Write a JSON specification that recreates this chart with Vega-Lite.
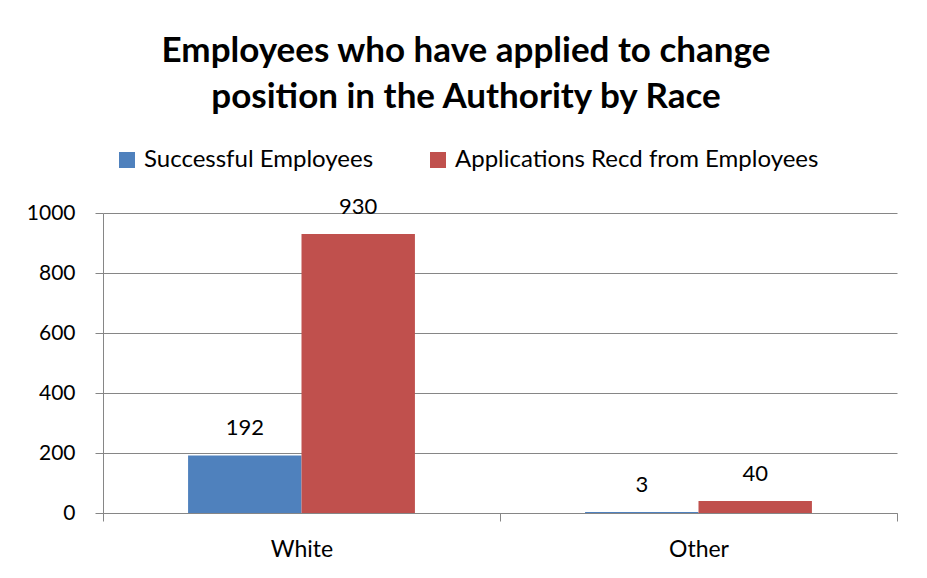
{
  "$schema": "https://vega.github.io/schema/vega-lite/v6.json",
  "autosize": "none",
  "width": 794,
  "height": 300,
  "padding": {"left": 103, "top": 213, "right": 30, "bottom": 65},
  "background": "white",
  "title": {
    "text": ["Employees who have applied to change", "position in the Authority by Race"],
    "anchor": "middle",
    "frame": "group",
    "dx": -34,
    "offset": 33,
    "font": "Lato",
    "fontSize": 35,
    "fontWeight": "bold",
    "color": "black",
    "lineHeight": 46
  },
  "data": {
    "values": [
      {"race": "White", "series": "Successful Employees", "value": 192},
      {"race": "White", "series": "Applications Recd from Employees", "value": 930},
      {"race": "Other", "series": "Successful Employees", "value": 3},
      {"race": "Other", "series": "Applications Recd from Employees", "value": 40}
    ]
  },
  "encoding": {
    "x": {
      "field": "race",
      "type": "nominal",
      "sort": ["White", "Other"],
      "scale": {"paddingInner": 0, "paddingOuter": 0},
      "axis": {
        "title": null,
        "labelAngle": 0,
        "tickBand": "extent",
        "tickSize": 8,
        "tickColor": "#868686",
        "domainColor": "#868686",
        "labelFont": "Lato",
        "labelFontSize": 23,
        "labelColor": "black",
        "labelPadding": 17
      }
    },
    "xOffset": {
      "field": "series",
      "type": "nominal",
      "scale": {"domain": ["Successful Employees", "Applications Recd from Employees"], "paddingInner": 0, "paddingOuter": 0.75}
    },
    "y": {
      "field": "value",
      "type": "quantitative",
      "scale": {"domain": [0, 1000], "nice": false},
      "axis": {
        "title": null,
        "values": [0, 200, 400, 600, 800, 1000],
        "format": "d",
        "grid": true,
        "gridColor": "#868686",
        "tickColor": "#868686",
        "domainColor": "#868686",
        "tickSize": 8,
        "labelFont": "Lato",
        "labelFontSize": 21,
        "labelColor": "black",
        "labelPadding": 20
      }
    }
  },
  "layer": [
    {
      "mark": {"type": "bar"},
      "encoding": {
        "color": {
          "field": "series",
          "type": "nominal",
          "scale": {"domain": ["Successful Employees", "Applications Recd from Employees"], "range": ["#4F81BD", "#C0504D"]},
          "legend": {
            "title": null,
            "orient": "none",
            "direction": "horizontal",
            "legendX": 12,
            "legendY": -65,
            "symbolType": "square",
            "symbolSize": 256,
            "symbolStrokeWidth": 0,
            "symbolOpacity": 1,
            "labelFont": "Lato",
            "labelFontSize": 24,
            "labelColor": "black",
            "labelOffset": 5,
            "columnPadding": 52,
            "labelLimit": 500
          }
        }
      }
    },
    {
      "mark": {"type": "text", "baseline": "middle", "dy": -27, "font": "Lato", "fontSize": 22, "color": "black"},
      "encoding": {"text": {"field": "value", "type": "quantitative"}}
    }
  ],
  "config": {
    "view": {"stroke": null},
    "axis": {"gridWidth": 1, "domainWidth": 1, "tickWidth": 1}
  }
}
